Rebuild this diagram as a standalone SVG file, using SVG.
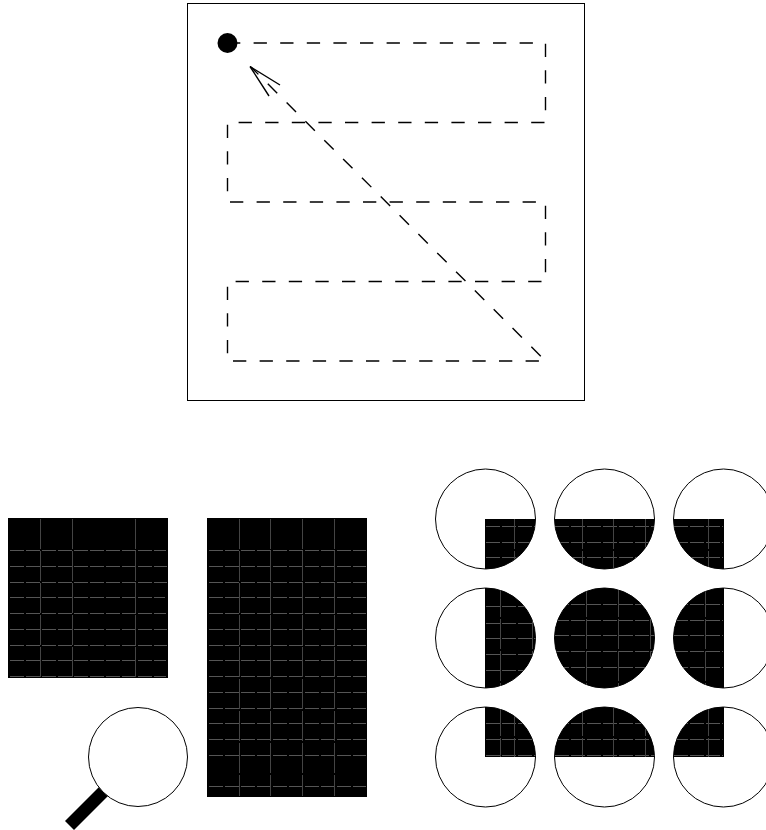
<svg xmlns="http://www.w3.org/2000/svg" width="766" height="830" viewBox="0 0 766 830">
<style>
.o{fill:none;stroke:#000;stroke-width:1}
.r{fill:none;stroke:#000;stroke-width:1.4;stroke-dasharray:13.3 13.3}
.a{fill:none;stroke:#000;stroke-width:1.4}
.b{fill:#000}
.h{fill:none;stroke:#555;stroke-width:1;stroke-dasharray:14 2}
.v{fill:none;stroke:#444;stroke-width:1;stroke-dasharray:30 2}
.c{fill:#fff;stroke:#000;stroke-width:1}
</style>
<defs>
<clipPath id="c11"><path d="M485.5 519H535.500V569H485.500Z M0 0"/></clipPath>
<clipPath id="d11"><circle cx="485.500" cy="519" r="50"/></clipPath>
<clipPath id="d12"><circle cx="604.500" cy="519" r="50"/></clipPath>
<clipPath id="d13"><circle cx="723.500" cy="519" r="50"/></clipPath>
<clipPath id="d21"><circle cx="485.500" cy="638" r="50"/></clipPath>
<clipPath id="d22"><circle cx="604.500" cy="638" r="50"/></clipPath>
<clipPath id="d23"><circle cx="723.500" cy="638" r="50"/></clipPath>
<clipPath id="d31"><circle cx="485.500" cy="757" r="50"/></clipPath>
<clipPath id="d32"><circle cx="604.500" cy="757" r="50"/></clipPath>
<clipPath id="d33"><circle cx="723.500" cy="757" r="50"/></clipPath>
</defs>
<g id="frame"><rect class="o" x="187.500" y="3.500" width="397" height="397"/></g>
<g id="connectors">
<path class="r" d="M227 43H545.500V122.500H227.500V202H545.500V281.500H227.500V361H545.500L251 67"/>
<path class="a" d="M280 85L250 66.500L269 96"/>
</g>
<g id="start"><circle class="b" cx="227.500" cy="43" r="10"/></g>
<g id="square">
<rect class="b" x="8" y="518" width="160" height="160"/>
<path class="h" d="M10 550.500H166M10 566.500H167M10 582.500H167M10 597.500H165M10 613.500H166M10 629.500H167M10 645.500H167M10 660.500H166M10 676.500H166"/>
<path class="v" d="M40.500 519V677M72.500 519V677M135.500 519V677"/>
</g>
<g id="tall">
<rect class="b" x="207" y="518" width="160" height="279"/>
<path class="h" d="M209 550.500H366M209 566.500H366M209 582.500H366M209 597.500H366M209 613.500H366M209 629.500H366M209 645.500H366M209 660.500H366M209 676.500H366M209 692.500H366M209 708.500H366M209 723.500H366M209 739.500H366M209 755.500H366M209 786.500H366"/>
<path class="v" d="M239.500 519V796M270.500 519V796M302.500 519V796M334.500 519V796"/>
</g>
<g id="lens">
<path class="b" d="M99 787L108 796L74 830L65 821Z"/>
<circle class="c" cx="138" cy="757" r="49.500"/>
</g>
<g id="c1">
<circle class="c" cx="485.500" cy="519" r="50"/>
<g clip-path="url(#d11)"><rect class="b" x="485" y="519" width="52" height="52"/>
<path class="h" d="M486 526.500H536M486 542.500H536M486 557.500H536"/><path class="v" d="M514.500 519V570"/></g>
</g>
<g id="c2">
<circle class="c" cx="604.500" cy="519" r="50"/>
<g clip-path="url(#d12)"><rect class="b" x="554" y="519" width="102" height="52"/>
<path class="h" d="M555 526.500H655M555 542.500H655M555 557.500H655"/><path class="v" d="M582.500 519V570M613.500 519V570M645.500 519V570"/></g>
</g>
<g id="c3">
<circle class="c" cx="723.500" cy="519" r="50"/>
<g clip-path="url(#d13)"><rect class="b" x="672" y="519" width="52" height="52"/>
<path class="h" d="M674 526.500H723M674 542.500H723M674 557.500H723"/><path class="v" d="M708.500 519V570"/></g>
</g>
<g id="c4">
<circle class="c" cx="485.500" cy="638" r="50"/>
<g clip-path="url(#d21)"><rect class="b" x="485" y="586" width="52" height="104"/>
<path class="h" d="M486 606.500H536M486 623.500H536M486 638.500H536M486 654.500H536M486 670.500H536"/><path class="v" d="M500.500 587V689M532.500 587V689"/></g>
</g>
<g id="c5">
<circle class="c" cx="604.500" cy="638" r="50"/>
<g clip-path="url(#d22)"><rect class="b" x="553" y="586" width="104" height="104"/>
<path class="h" d="M555 604.500H655M555 620.500H655M555 635.500H655M555 651.500H655M555 667.500H655"/><path class="v" d="M586.500 587V689M618.500 587V689M650.500 587V689"/></g>
</g>
<g id="c6">
<circle class="c" cx="723.500" cy="638" r="50"/>
<g clip-path="url(#d23)"><rect class="b" x="672" y="586" width="52" height="104"/>
<path class="h" d="M674 604.500H723M674 620.500H723M674 635.500H723M674 651.500H723M674 667.500H723"/><path class="v" d="M705.500 587V689"/></g>
</g>
<g id="c7">
<circle class="c" cx="485.500" cy="757" r="50"/>
<g clip-path="url(#d31)"><rect class="b" x="485" y="705" width="52" height="52"/>
<path class="h" d="M486 723.500H536M486 739.500H536M486 755.500H536"/><path class="v" d="M500.500 706V757M514.500 706V757"/></g>
</g>
<g id="c8">
<circle class="c" cx="604.500" cy="757" r="50"/>
<g clip-path="url(#d32)"><rect class="b" x="553" y="705" width="104" height="52"/>
<path class="h" d="M555 723.500H655M555 739.500H655M555 755.500H655"/><path class="v" d="M582.500 706V757M613.500 706V757M645.500 706V757"/></g>
</g>
<g id="c9">
<circle class="c" cx="723.500" cy="757" r="50"/>
<g clip-path="url(#d33)"><rect class="b" x="672" y="705" width="52" height="52"/>
<path class="h" d="M674 723.500H723M674 739.500H723M674 755.500H723"/><path class="v" d="M708.500 706V757"/></g>
</g>
</svg>
